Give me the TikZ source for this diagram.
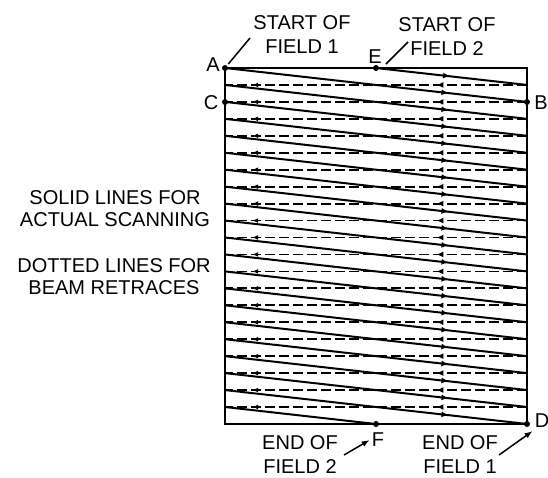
\documentclass[tikz,border=0pt]{standalone}
\usepackage{fontspec}
\setmainfont{Liberation Sans}
\usetikzlibrary{arrows.meta,decorations.markings}

\begin{document}
\begin{tikzpicture}[x=1pt, y=-1pt,
lbl/.style={font=\fontsize{20}{24}\selectfont, align=center, inner sep=0pt},
side/.style={lbl, font=\fontsize{20}{22}\selectfont},
dot/.style={circle, fill=black, inner sep=0pt, minimum size=6pt},
frame/.style={line width=2.4pt},
scanline/.style={line width=2pt},
scan/.style={scanline, postaction={decorate}, decoration={markings,
  mark=at position #1 with {\arrow{Latex[length=7pt,width=6pt]}}}},
scan/.default=0.74,
retrace/.style={line width=1.8pt, dash pattern=on 10pt off 4pt,
  postaction={decorate}, decoration={markings,
  mark=at position 0.3 with {\arrow{Latex[length=7pt,width=6pt]}},
  mark=at position 0.91 with {\arrow{Latex[length=6pt,width=5pt]}}}},
leader/.style={line width=1.5pt},
pointer/.style={-{Latex[length=8pt,width=6pt]}, line width=1.5pt}
]
\useasboundingbox (0,0) rectangle (548,477);

% raster
\draw[frame] (225,68) rectangle (527,424);

\node[dot] (A) at (225,68) {};
\node[dot] (E) at (376,68) {};
\node[dot] (C) at (225,102) {};
\node[dot] (B) at (527,102) {};
\node[dot] (F) at (376,424) {};
\node[dot] (D) at (527,424) {};

\foreach \k in {0,...,9} {
  % field 1
  \draw[scan] (225,{68+\k*33.9}) -- (527,{68+(\k+1)*33.9});
  \draw[retrace] (527,{68+(\k+1)*33.9}) -- (225,{68+(\k+1)*33.9});
  % field 2
  \draw[scan] (225,{84.95+\k*33.9}) -- (527,{84.95+(\k+1)*33.9});
  \draw[retrace] (527,{84.95+\k*33.9}) -- (225,{84.95+\k*33.9});
}
\draw[scan=0.48] (E) -- (527,84.95);
\draw[scanline] (225,407) -- (F);

% letters
\node[lbl] (Alab) at (213,65) {A};
\node[lbl] (Elab) at (375,57) {E};
\node[lbl] (Clab) at (211,103) {C};
\node[lbl] (Blab) at (541,103) {B};
\node[lbl] (Dlab) at (542,421) {D};
\node[lbl] (Flab) at (378,440) {F};

\node[lbl] (start1) at (302,35) {START OF\\FIELD 1};
\node[lbl] (start2) at (447,37) {START OF\\FIELD 2};
\node[lbl] (end2) at (300,455) {END OF\\FIELD 2};
\node[lbl] (end1) at (460,455) {END OF\\FIELD 1};

\node[side] (solid) at (115,209) {SOLID LINES FOR\\ACTUAL SCANNING};
\node[side] (dotted) at (114,277) {DOTTED LINES FOR\\BEAM RETRACES};

\coordinate (s1tip) at (250,38);
\coordinate (s2tip) at (408,42);
\draw[leader, shorten <=2pt] (A) -- (s1tip);
\draw[leader] ([xshift=4pt]Elab.south east) -- (s2tip);
\draw[pointer] ([xshift=6pt]end2.east) -- ([xshift=-2pt]Flab.west);
\draw[pointer] ([xshift=1pt]end1.east) -- ([shift={(-2pt,-3pt)}]Dlab.south west);
\end{tikzpicture}
\end{document}
